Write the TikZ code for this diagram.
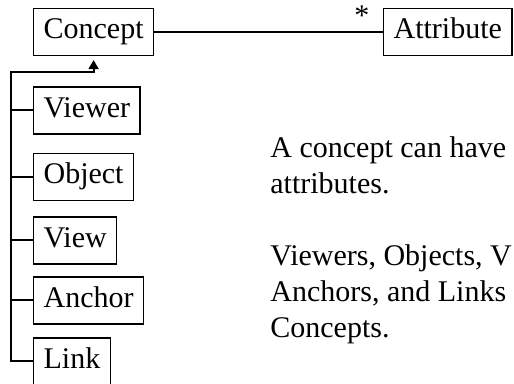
\documentclass[tikz,border=0pt]{standalone}
\usepackage{fontspec}
\setmainfont{Liberation Serif}
\usetikzlibrary{positioning, arrows.meta}

\tikzset{
  cls/.style={draw, line width=0.6pt, inner xsep=5pt, inner ysep=0pt,
    minimum height=23.5pt, text height=10.5pt, text depth=3.5pt},
  link/.style={line width=1pt},
}

\begin{document}
\begin{tikzpicture}[x=0.5pt, y=-0.5pt, font=\fontsize{15}{18}\selectfont]
  \clip (0,0) rectangle (514,384);
  \node[cls, anchor=west] (Concept) at (33,32) {Concept};
  \node[cls, anchor=east] (Attribute) at (512.5,32) {Attribute};
  \node[cls, anchor=west] (Viewer) at (33,110.5) {Viewer};
  \node[cls] (Object) [below=33.25pt of Viewer.west, anchor=west] {Object};
  \node[cls] (View) [below=31.75pt of Object.west, anchor=west] {View};
  \node[cls] (Anchor) [below=30pt of View.west, anchor=west] {Anchor};
  \node[cls] (Link) [below=30.5pt of Anchor.west, anchor=west] {Link};
  \coordinate (trunk) at (11,72);
  % association
  \draw[link] (Concept) -- node[pos=0.908, anchor=base, yshift=3pt] (many) {*} (Attribute);
  % generalization
  \draw[link, -{Triangle[length=4.5pt, width=5pt]}, shorten >=2pt]
    (Link.west) -| (trunk) -| (Concept.south);
  \foreach \sub in {Viewer, Object, View, Anchor}
    \draw[link] (\sub.west) -- (\sub.west -| trunk);
  \node[anchor=north west, align=left, inner sep=0pt] (note) at (270,136.5)
    {A concept can have\\attributes.\\[18pt]Viewers, Objects, V\\Anchors, and Links\\Concepts.};
\end{tikzpicture}
\end{document}
